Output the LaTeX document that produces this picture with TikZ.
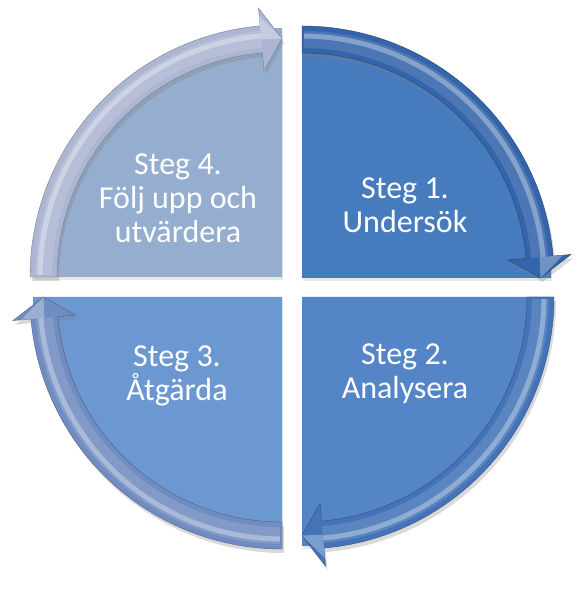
\documentclass[tikz,border=0pt]{standalone}
\usepackage{fontspec}
\setmainfont{Carlito}
\usetikzlibrary{shadows}
\definecolor{tileA}{RGB}{70,123,190}
\definecolor{tileB}{RGB}{84,133,198}
\definecolor{tileC}{RGB}{108,152,210}
\definecolor{tileD}{RGB}{149,174,208}
\definecolor{bandA}{RGB}{52,100,170}
\definecolor{bandB}{RGB}{68,116,183}
\definecolor{bandC}{RGB}{112,140,192}
\definecolor{bandD}{RGB}{172,182,210}
\tikzset{every path/.style={thin},
  steg/.style={text=white,font=\fontsize{32}{34}\selectfont,align=center,inner sep=0pt},
  tileshadow/.style={drop shadow={opacity=.18,shadow xshift=1pt,shadow yshift=-3pt}},
  bandshadow/.style={drop shadow={opacity=.3,shadow xshift=2pt,shadow yshift=-4pt}}}

\begin{document}
\begin{tikzpicture}[x=1pt,y=1pt]
\useasboundingbox (0,0) rectangle (587,589);
\foreach \cx/\cy/\s/\tc/\bc in {302/311/90/tileA/bandA,302/292/0/tileB/bandB,282/292/-90/tileC/bandC,282/312/180/tileD/bandD}{
\begin{scope}[shift={(\cx,\cy)}]
\fill[\tc,tileshadow] (0,0) -- (\s:249) arc[start angle=\s,end angle=\s-90,radius=249] -- cycle;
\filldraw[fill=\bc,draw=\bc!70!black,bandshadow] (\s:252) arc[start angle=\s,end angle={\s-85},radius=252]
  -- ({\s-85}:270) -- ({\s-90}:238.5) -- ({\s-85}:207) -- ({\s-85}:225)
  arc[start angle={\s-85},end angle=\s,radius=225] -- cycle;
\draw[\bc!88!white,line width=17] ({\s-0.5}:238.5) arc[start angle={\s-0.5},end angle={\s-85},radius=238.5];
\draw[\bc!60!white,line width=5] ({\s-0.5}:242) arc[start angle={\s-0.5},end angle={\s-85},radius=242];
\fill[\bc!70!white] ({\s-85}:238.5) -- ({\s-90}:238.5) -- ({\s-85}:262) -- cycle;
\end{scope}
}
\node[steg] (steg4) at (178,391) {Steg 4.\\Följ upp och\\utvärdera};
\node[steg] (steg1) at (405,384) {Steg 1.\\Undersök};
\node[steg] (steg3) at (177,213) {Steg 3.\\Åtgärda};
\node[steg] (steg2) at (405,215) {Steg 2.\\Analysera};
\end{tikzpicture}
\end{document}
